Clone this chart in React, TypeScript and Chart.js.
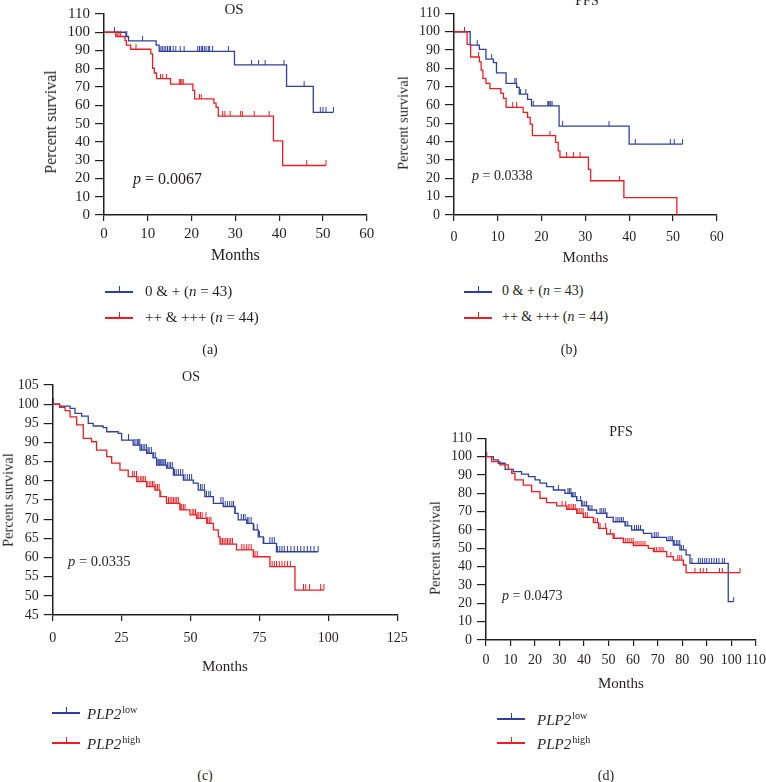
import React, { useEffect, useRef } from 'react';
import { Chart, registerables } from 'chart.js';
Chart.register(...registerables);

const FONT = "'Liberation Serif', 'Times New Roman', serif";
const INK = '#231f20';
const BLUE = '#2f3f9e';
const RED = '#ed1c24';

// ---------- Panel (a): OS, 0 & + vs ++ & +++ ----------
const A_X_TICKS = [0, 10, 20, 30, 40, 50, 60];
const A_Y_TICKS = [0, 10, 20, 30, 40, 50, 60, 70, 80, 90, 100, 110];
const A_BLUE_T = [0, 5.0, 5.6, 11.9, 12.6, 29.8, 41.7, 47.8];
const A_BLUE_S = [100, 97.7, 95.3, 93.0, 89.6, 82.2, 70.4, 56.2];
const A_BLUE_C = [2.4, 5.2, 8.8, 13.0, 13.3, 13.7, 14.1, 14.5, 14.9, 15.2, 15.8, 16.4, 17.4, 18.3, 21.4, 21.8, 22.2, 22.5, 22.9, 23.3, 23.8, 24.1, 24.8, 28.4, 33.7, 35.3, 36.8, 41.1, 45.7, 49.4, 50.0, 50.7, 52.4];
const A_RED_T = [0, 2.7, 4.8, 5.1, 6.1, 10.7, 11.1, 11.5, 12.0, 15.2, 20.3, 20.7, 25.1, 25.6, 26.1, 38.7, 40.8];
const A_RED_S = [100, 97.7, 95.4, 93.0, 90.7, 88.2, 80.3, 77.7, 74.6, 71.6, 68.2, 63.6, 61.2, 58.9, 54.1, 40.6, 27.1];
const A_RED_C = [3.0, 3.4, 3.8, 7.3, 12.9, 13.4, 14.3, 17.2, 17.5, 17.8, 18.1, 21.8, 22.2, 27.1, 27.6, 28.8, 31.2, 31.6, 34.3, 37.7, 46.3, 50.7];

// ---------- Panel (b): PFS, 0 & + vs ++ & +++ ----------
const B_X_TICKS = [0, 10, 20, 30, 40, 50, 60];
const B_Y_TICKS = [0, 10, 20, 30, 40, 50, 60, 70, 80, 90, 100, 110];
const B_BLUE_T = [0, 3.7, 5.8, 7.3, 9.0, 9.7, 11.9, 14.3, 14.9, 16.8, 17.7, 24.0, 40.0];
const B_BLUE_S = [100, 92.7, 90.4, 85.1, 83.1, 77.6, 71.8, 69.6, 66.0, 63.1, 59.5, 48.5, 38.7];
const B_BLUE_C = [2.4, 5.3, 8.6, 13.9, 14.2, 15.2, 16.4, 18.1, 21.4, 21.6, 21.9, 22.1, 22.4, 24.8, 35.4, 41.4, 49.4, 50.3, 52.2];
const B_RED_T = [0, 3.0, 3.8, 5.8, 6.2, 6.6, 7.3, 8.2, 10.7, 11.3, 11.9, 15.8, 16.8, 17.4, 17.9, 23.2, 23.8, 24.2, 30.7, 31.2, 38.8, 50.9];
const B_RED_S = [100, 93.1, 86.2, 83.6, 79.0, 74.5, 71.8, 69.0, 66.4, 63.6, 58.7, 56.0, 53.3, 49.6, 43.3, 39.6, 35.0, 31.5, 24.9, 18.7, 9.5, 0];
const B_RED_C = [5.6, 13.4, 14.3, 21.9, 25.7, 27.3, 28.8, 37.8];

// ---------- Panel (c): OS, PLP2 low vs high ----------
const C_X_TICKS = [0, 25, 50, 75, 100, 125];
const C_Y_TICKS = [45, 50, 55, 60, 65, 70, 75, 80, 85, 90, 95, 100, 105];
const C_BLUE_T = [0, 2.5, 6.3, 8.1, 10.5, 12.9, 14.7, 18.3, 19.6, 23.8, 25.0, 29.2, 31.7, 34.1, 36.4, 37.7, 41.3, 43.8, 47.4, 51.0, 52.8, 55.2, 58.3, 61.9, 66.1, 67.3, 70.4, 72.8, 74.6, 76.4, 81.2];
const C_BLUE_S = [100, 99.5, 98.9, 97.6, 96.9, 95.0, 94.3, 93.9, 92.8, 92.4, 90.6, 89.3, 88.0, 87.2, 86.0, 84.1, 83.3, 81.5, 80.2, 79.4, 77.6, 75.9, 74.1, 73.3, 71.5, 69.8, 68.9, 67.2, 65.4, 63.7, 61.5];
const C_BLUE_C = [0.3, 27.5, 29.5, 30.2, 30.8, 31.2, 31.6, 32.2, 32.8, 33.4, 34.0, 34.6, 35.0, 35.8, 36.6, 37.2, 37.8, 38.3, 38.8, 39.2, 39.6, 40.0, 40.4, 40.9, 41.6, 42.2, 42.8, 43.4, 44.2, 44.8, 45.6, 46.4, 47.2, 48.0, 48.8, 49.6, 50.4, 53.6, 54.2, 55.0, 55.8, 56.6, 57.2, 61.0, 61.8, 62.6, 63.4, 64.2, 65.0, 65.6, 66.2, 68.4, 69.2, 69.8, 70.6, 71.2, 72.0, 73.0, 74.2, 75.0, 76.6, 78.8, 79.6, 80.4, 81.6, 82.4, 83.2, 84.0, 85.2, 86.4, 87.6, 88.8, 90.0, 91.2, 92.4, 93.6, 94.8, 96.3];
const C_RED_T = [0, 2.5, 4.5, 6.3, 8.7, 11.1, 14.1, 15.9, 19.6, 21.4, 24.4, 27.4, 30.5, 34.1, 37.1, 38.9, 41.3, 46.2, 49.8, 52.2, 55.9, 58.3, 60.1, 60.7, 66.7, 72.8, 78.8, 87.9];
const C_RED_S = [100, 99.2, 98.3, 96.7, 94.6, 91.1, 90.2, 88.0, 86.3, 84.6, 82.8, 81.1, 79.8, 78.5, 77.6, 75.9, 74.1, 72.4, 71.1, 70.2, 68.9, 67.2, 65.4, 63.5, 62.0, 60.2, 57.6, 51.5];
const C_RED_C = [29.0, 29.6, 30.4, 31.0, 31.8, 32.4, 33.0, 33.6, 34.2, 35.0, 35.6, 36.2, 36.8, 37.4, 38.0, 38.6, 39.2, 42.0, 42.6, 43.2, 43.8, 44.4, 45.0, 45.6, 46.2, 46.8, 47.4, 48.0, 50.6, 51.2, 51.8, 52.4, 53.0, 53.6, 54.2, 55.6, 56.2, 56.8, 57.4, 61.0, 61.6, 62.2, 62.8, 63.4, 64.0, 64.6, 65.2, 68.6, 69.4, 70.4, 71.2, 72.0, 73.4, 74.2, 79.6, 80.4, 81.2, 82.2, 83.2, 84.2, 85.2, 86.2, 91.0, 91.8, 93.2, 97.2, 98.4];

// ---------- Panel (d): PFS, PLP2 low vs high ----------
const D_X_TICKS = [0, 10, 20, 30, 40, 50, 60, 70, 80, 90, 100, 110];
const D_Y_TICKS = [0, 10, 20, 30, 40, 50, 60, 70, 80, 90, 100, 110];
const D_BLUE_T = [0, 3.0, 5.0, 7.8, 11.1, 14.5, 17.3, 20.0, 22.0, 24.7, 27.5, 32.2, 34.9, 37.0, 39.0, 41.7, 45.1, 49.2, 51.9, 56.7, 59.4, 64.2, 67.6, 73.7, 76.4, 79.1, 81.6, 83.2, 98.8];
const D_BLUE_S = [100, 98.2, 96.4, 93.1, 91.8, 90.5, 89.1, 87.3, 85.5, 83.6, 81.8, 80.0, 78.2, 76.0, 73.1, 70.9, 69.1, 66.9, 64.5, 62.2, 60.0, 58.2, 56.0, 54.2, 51.8, 49.1, 46.4, 41.8, 20.9];
const D_BLUE_C = [0.3, 29.5, 33.4, 34.0, 34.6, 35.2, 35.8, 36.4, 37.0, 38.6, 39.5, 40.3, 41.0, 41.7, 42.4, 43.2, 46.5, 47.2, 48.0, 48.6, 49.3, 53.0, 53.8, 54.6, 55.3, 56.0, 57.0, 57.8, 60.6, 61.4, 62.2, 63.0, 68.6, 69.4, 70.2, 74.6, 75.4, 76.0, 76.8, 77.6, 78.3, 79.0, 79.7, 80.5, 84.0, 86.6, 87.4, 88.3, 89.2, 90.0, 91.0, 92.0, 93.0, 94.0, 95.0, 96.4, 97.2, 101.0];
const D_RED_T = [0, 2.3, 5.7, 9.1, 10.5, 11.8, 15.2, 18.6, 22.0, 24.7, 28.8, 32.9, 37.0, 39.7, 43.8, 45.9, 49.2, 51.9, 56.0, 60.1, 66.2, 68.3, 73.7, 76.4, 80.5, 81.6];
const D_RED_S = [100, 97.3, 95.5, 93.1, 90.9, 87.3, 84.5, 80.9, 77.3, 74.9, 73.1, 71.3, 69.1, 66.9, 64.0, 60.9, 57.8, 55.5, 53.1, 51.5, 50.0, 48.2, 45.5, 43.6, 40.9, 36.7];
const D_RED_C = [31.0, 32.5, 33.5, 34.2, 35.0, 35.7, 36.4, 37.2, 38.0, 38.8, 39.6, 40.5, 41.3, 44.5, 45.5, 46.5, 48.8, 50.7, 52.3, 56.8, 57.6, 58.4, 59.2, 60.0, 60.8, 61.6, 62.4, 63.2, 64.0, 64.8, 68.8, 69.6, 70.6, 71.4, 72.2, 75.4, 78.2, 79.0, 79.8, 80.6, 85.2, 87.4, 88.6, 90.0, 95.2, 96.4, 103.6];

type Box = { l: number; t: number; r: number; b: number };
type Curve = { t: number[]; s: number[]; c: number[]; color: string };
type PanelSpec = {
  left: number; top: number; w: number; h: number;
  area: Box;
  xTicks: number[]; yTicks: number[];
  xTickY: number; xTitleY: number;
  tickSize: number; titleSize: number; markLen: number;
  curves: Curve[];
};

const PANELS: PanelSpec[] = [
  {
    left: 0, top: 0, w: 380, h: 270,
    area: { l: 104, t: 13.3, r: 366.7, b: 215 },
    xTicks: A_X_TICKS, yTicks: A_Y_TICKS, xTickY: 234, xTitleY: 256,
    tickSize: 15, titleSize: 16, markLen: 5,
    curves: [
      { t: A_RED_T, s: A_RED_S, c: A_RED_C, color: RED },
      { t: A_BLUE_T, s: A_BLUE_S, c: A_BLUE_C, color: BLUE },
    ],
  },
  {
    left: 380, top: 0, w: 386, h: 270,
    area: { l: 74, t: 13.3, r: 336.7, b: 215 },
    xTicks: B_X_TICKS, yTicks: B_Y_TICKS, xTickY: 237, xTitleY: 258,
    tickSize: 14, titleSize: 15, markLen: 5,
    curves: [
      { t: B_RED_T, s: B_RED_S, c: B_RED_C, color: RED },
      { t: B_BLUE_T, s: B_BLUE_S, c: B_BLUE_C, color: BLUE },
    ],
  },
  {
    left: 0, top: 360, w: 420, h: 330,
    area: { l: 52.7, t: 25, r: 397.2, b: 255 },
    xTicks: C_X_TICKS, yTicks: C_Y_TICKS, xTickY: 278, xTitleY: 307,
    tickSize: 14, titleSize: 15, markLen: 6,
    curves: [
      { t: C_RED_T, s: C_RED_S, c: C_RED_C, color: RED },
      { t: C_BLUE_T, s: C_BLUE_S, c: C_BLUE_C, color: BLUE },
    ],
  },
  {
    left: 420, top: 400, w: 360, h: 300,
    area: { l: 66, t: 38.3, r: 335.7, b: 240 },
    xTicks: D_X_TICKS, yTicks: D_Y_TICKS, xTickY: 260, xTitleY: 284,
    tickSize: 14, titleSize: 15, markLen: 5,
    curves: [
      { t: D_RED_T, s: D_RED_S, c: D_RED_C, color: RED },
      { t: D_BLUE_T, s: D_BLUE_S, c: D_BLUE_C, color: BLUE },
    ],
  },
];

function valueAt(t: number[], s: number[], x: number): number {
  let v = s[0];
  for (let i = 0; i < t.length; i++) if (t[i] <= x) v = s[i];
  return v;
}

function censorMark(color: string, len: number): HTMLCanvasElement {
  const cv = document.createElement('canvas');
  cv.width = 3;
  cv.height = len * 2;
  const ctx = cv.getContext('2d')!;
  ctx.fillStyle = color;
  ctx.fillRect(1, 0, 1, len);
  return cv;
}

function KMChart({ spec }: { spec: PanelSpec }) {
  const ref = useRef<HTMLCanvasElement>(null);
  useEffect(() => {
    const { area, w, h } = spec;
    const tickLen = 6;
    const xLH = spec.titleSize * 1.2;
    const xScaleH = spec.xTitleY + xLH / 2 - area.b;
    const padBottom = h - area.b - xScaleH;
    const xTickPad = spec.xTickY - area.b - tickLen - (spec.tickSize * 1.2) / 2;
    const datasets: any[] = [];
    spec.curves.forEach((cv) => {
      const last = cv.t.length - 1;
      const end = Math.max(cv.t[last], ...cv.c);
      const pts = cv.t.map((x, i) => ({ x, y: cv.s[i] }));
      if (end > cv.t[last]) pts.push({ x: end, y: cv.s[last] });
      datasets.push({
        type: 'line', data: pts, borderColor: cv.color, backgroundColor: cv.color,
        borderWidth: 1.3, pointRadius: 0, stepped: 'before', fill: false, tension: 0,
      });
      datasets.push({
        type: 'line', data: cv.c.map((x) => ({ x, y: valueAt(cv.t, cv.s, x) })),
        showLine: false, pointStyle: censorMark(cv.color, spec.markLen), pointRadius: 3,
        borderColor: cv.color, backgroundColor: cv.color,
      });
    });
    const axisCommon = {
      type: 'linear' as const,
      grid: { display: true, drawOnChartArea: false, drawTicks: true, tickLength: tickLen, color: INK, lineWidth: 1.2 },
      border: { display: true, color: INK, width: 1.5 },
    };
    const chart = new Chart(ref.current!, {
      type: 'line',
      data: { datasets },
      options: {
        animation: false,
        responsive: false,
        events: [],
        layout: { padding: { left: 0, top: area.t, right: w - area.r, bottom: padBottom } },
        plugins: { legend: { display: false }, tooltip: { enabled: false }, title: { display: false } },
        scales: {
          x: {
            ...axisCommon,
            min: spec.xTicks[0],
            max: spec.xTicks[spec.xTicks.length - 1],
            afterBuildTicks: (s: any) => { s.ticks = spec.xTicks.map((v) => ({ value: v })); },
            afterFit: (s: any) => { s.height = xScaleH; },
            ticks: { font: { family: FONT, size: spec.tickSize }, color: INK, padding: xTickPad, maxRotation: 0, autoSkip: false },
            title: { display: true, text: 'Months', font: { family: FONT, size: spec.titleSize }, color: INK, padding: 0 },
          },
          y: {
            ...axisCommon,
            grid: { ...axisCommon.grid, tickLength: 9 },
            min: spec.yTicks[0],
            max: spec.yTicks[spec.yTicks.length - 1],
            afterBuildTicks: (s: any) => { s.ticks = spec.yTicks.map((v) => ({ value: v })); },
            afterFit: (s: any) => { s.width = area.l; },
            ticks: { font: { family: FONT, size: spec.tickSize }, color: INK, padding: 5, autoSkip: false },
          },
        },
      } as any,
    });
    return () => chart.destroy();
  }, [spec]);
  return (
    <canvas
      ref={ref}
      width={spec.w}
      height={spec.h}
      style={{ position: 'absolute', left: spec.left, top: spec.top, width: spec.w, height: spec.h }}
    />
  );
}

function Txt(props: { x: number; y: number; size: number; children: any; align?: 'left' | 'center' }) {
  const { x, y, size, children, align = 'center' } = props;
  const tx = align === 'center' ? '-50%' : '0';
  return (
    <div
      style={{
        position: 'absolute', left: x, top: y, fontSize: size, lineHeight: 1, whiteSpace: 'nowrap',
        transform: `translate(${tx}, -50%)`,
      }}
    >
      {children}
    </div>
  );
}

function RotTxt(props: { x: number; y: number; size: number; children: any }) {
  return (
    <div
      style={{
        position: 'absolute', left: props.x, top: props.y, fontSize: props.size, lineHeight: 1, whiteSpace: 'nowrap',
        transform: 'translate(-50%, -50%) rotate(-90deg)',
      }}
    >
      {props.children}
    </div>
  );
}

function Sym({ x, y, color }: { x: number; y: number; color: string }) {
  return (
    <div style={{ position: 'absolute', left: x, top: y, width: 28, height: 0 }}>
      <div style={{ position: 'absolute', left: 0, top: -0.75, width: 28, height: 1.5, background: color }} />
      <div style={{ position: 'absolute', left: 13.5, top: -6, width: 1.2, height: 6, background: color }} />
    </div>
  );
}

const I = ({ children }: { children: any }) => <span style={{ fontStyle: 'italic' }}>{children}</span>;
const Sup = ({ children }: { children: any }) => (
  <span style={{ fontSize: '0.68em', position: 'relative', top: '-0.6em', marginLeft: 1 }}>{children}</span>
);

export default function App() {
  return (
    <div
      style={{
        position: 'absolute', left: 0, top: 0, width: 766, height: 782, overflow: 'hidden',
        background: '#fff', fontFamily: FONT, color: INK,
      }}
    >
      {PANELS.map((p, i) => <KMChart key={i} spec={p} />)}

      {/* panel titles */}
      <Txt x={234} y={9} size={15}>OS</Txt>
      <Txt x={587} y={1} size={14}>PFS</Txt>
      <Txt x={191} y={377} size={14}>OS</Txt>
      <Txt x={621} y={432} size={14}>PFS</Txt>

      {/* y axis titles */}
      <RotTxt x={51} y={122} size={16}>Percent survival</RotTxt>
      <RotTxt x={403} y={123} size={14.5}>Percent survival</RotTxt>
      <RotTxt x={8} y={500} size={14.5}>Percent survival</RotTxt>
      <RotTxt x={435} y={548} size={14.5}>Percent survival</RotTxt>

      {/* p values */}
      <Txt x={133} y={179} size={16} align="left"><I>p</I> = 0.0067</Txt>
      <Txt x={472} y={176} size={14} align="left"><I>p</I> = 0.0338</Txt>
      <Txt x={68} y={561} size={14.5} align="left"><I>p</I> = 0.0335</Txt>
      <Txt x={502} y={596} size={14} align="left"><I>p</I> = 0.0473</Txt>

      {/* legends (a) */}
      <Sym x={105} y={292} color={BLUE} />
      <Txt x={145} y={291} size={15} align="left">0 &amp; + (<I>n</I> = 43)</Txt>
      <Sym x={105} y={318} color={RED} />
      <Txt x={145} y={317} size={15} align="left">++ &amp; +++ (<I>n</I> = 44)</Txt>
      {/* legends (b) */}
      <Sym x={464} y={292} color={BLUE} />
      <Txt x={502} y={291} size={14} align="left">0 &amp; + (<I>n</I> = 43)</Txt>
      <Sym x={464} y={318} color={RED} />
      <Txt x={502} y={317} size={14} align="left">++ &amp; +++ (<I>n</I> = 44)</Txt>
      {/* legends (c) */}
      <Sym x={52} y={713} color={BLUE} />
      <Txt x={87} y={714} size={15} align="left"><I>PLP2</I><Sup>low</Sup></Txt>
      <Sym x={52} y={743} color={RED} />
      <Txt x={87} y={744} size={15} align="left"><I>PLP2</I><Sup>high</Sup></Txt>
      {/* legends (d) */}
      <Sym x={497} y={719} color={BLUE} />
      <Txt x={537} y={720} size={15} align="left"><I>PLP2</I><Sup>low</Sup></Txt>
      <Sym x={497} y={743} color={RED} />
      <Txt x={537} y={744} size={15} align="left"><I>PLP2</I><Sup>high</Sup></Txt>

      {/* captions */}
      <Txt x={210} y={350} size={14}>(a)</Txt>
      <Txt x={569} y={350} size={14}>(b)</Txt>
      <Txt x={205} y={776} size={14}>(c)</Txt>
      <Txt x={606} y={776} size={14}>(d)</Txt>
    </div>
  );
}
